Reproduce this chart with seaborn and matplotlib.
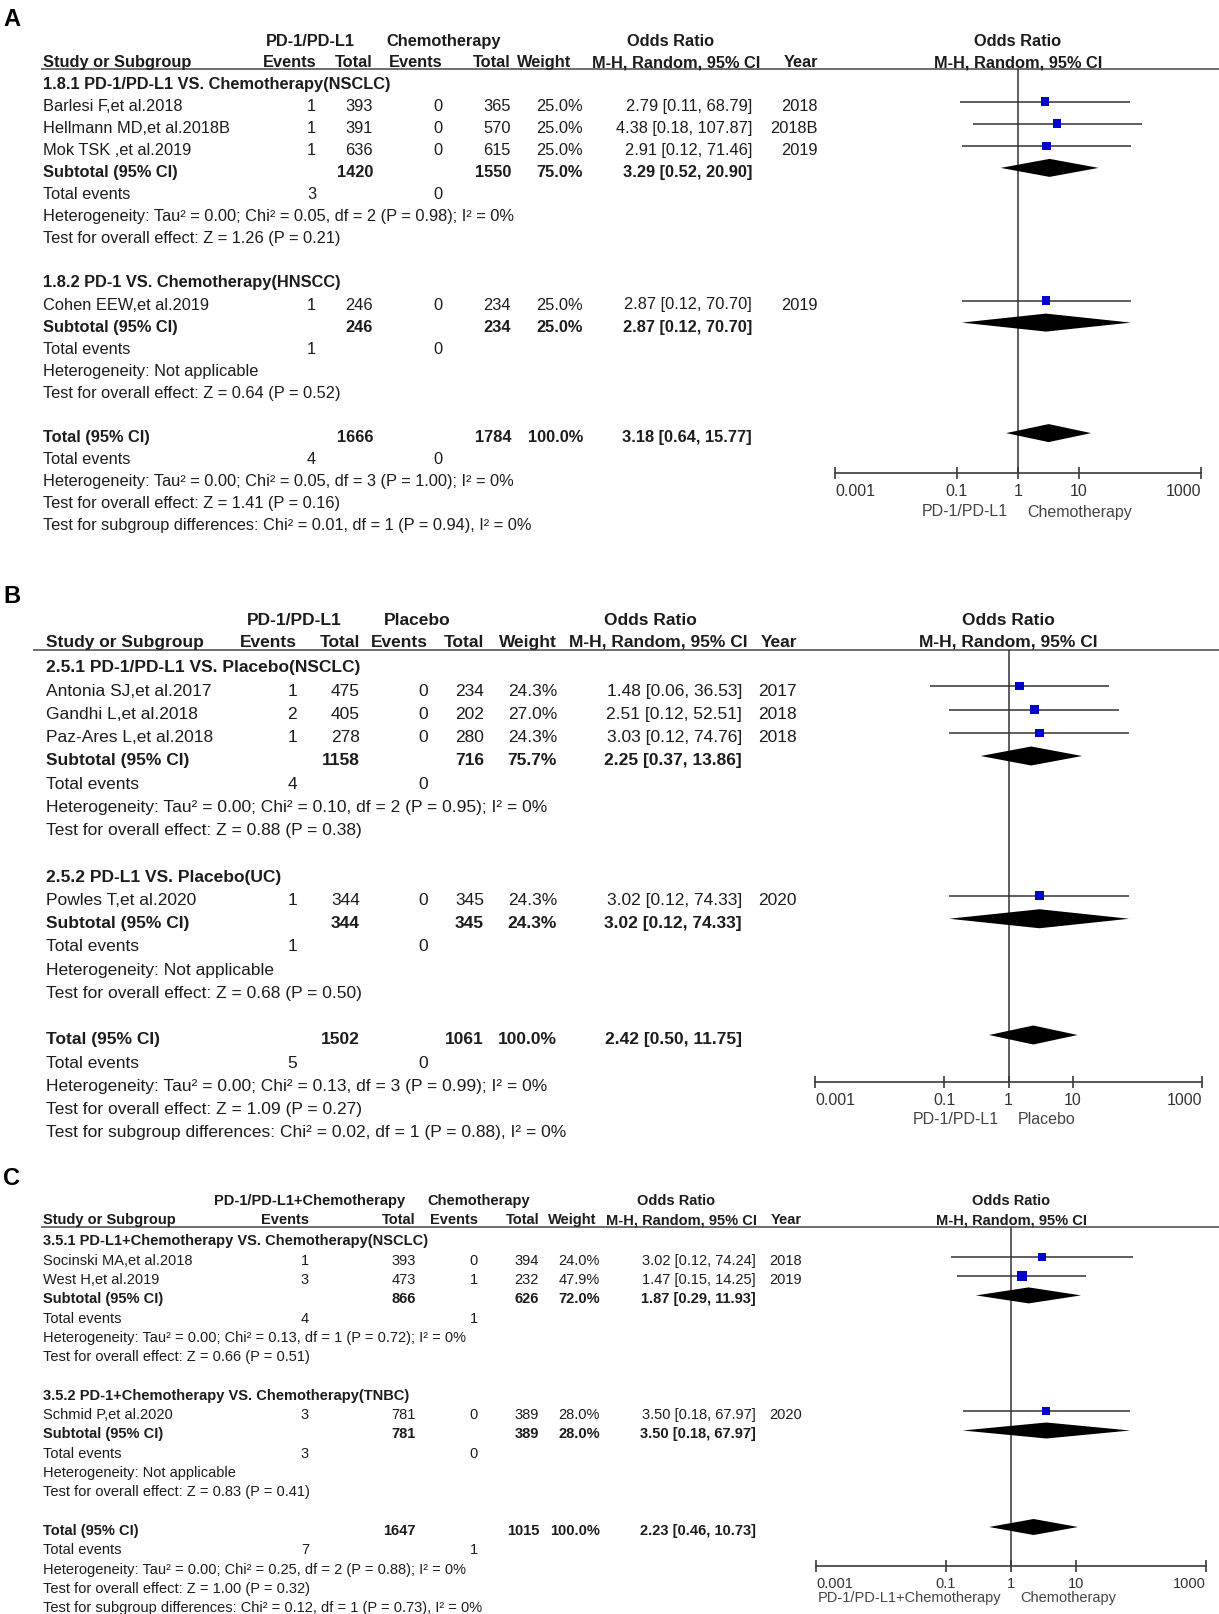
import numpy as np
import pandas as pd
import seaborn as sns
import matplotlib.pyplot as plt
from matplotlib.ticker import NullLocator

# ---------------- data ----------------
# panel A : PD-1/PD-L1 vs chemotherapy
a_groups = ["1.8.1 PD-1/PD-L1 VS. Chemotherapy(NSCLC)", "1.8.2 PD-1 VS. Chemotherapy(HNSCC)"]
a_study = ["Barlesi F,et al.2018", "Hellmann MD,et al.2018B", "Mok TSK ,et al.2019", "Cohen EEW,et al.2019"]
a_grp = [0, 0, 0, 1]
a_ev1 = [1, 1, 1, 1]
a_tot1 = [393, 391, 636, 246]
a_ev2 = [0, 0, 0, 0]
a_tot2 = [365, 570, 615, 234]
a_w = [25.0, 25.0, 25.0, 25.0]
a_or = [2.79, 4.38, 2.91, 2.87]
a_lo = [0.11, 0.18, 0.12, 0.12]
a_hi = [68.79, 107.87, 71.46, 70.70]
a_year = ["2018", "2018B", "2019", "2019"]
a_sub_ev1 = [3, 1]
a_sub_ev2 = [0, 0]
a_sub_tot1 = [1420, 246]
a_sub_tot2 = [1550, 234]
a_sub_w = [75.0, 25.0]
a_sub_or = [3.29, 2.87]
a_sub_lo = [0.52, 0.12]
a_sub_hi = [20.90, 70.70]
a_sub_het = ["Heterogeneity: Tau² = 0.00; Chi² = 0.05, df = 2 (P = 0.98); I² = 0%",
             "Heterogeneity: Not applicable"]
a_sub_z = ["Test for overall effect: Z = 1.26 (P = 0.21)", "Test for overall effect: Z = 0.64 (P = 0.52)"]
a_total = [1666, 1784, 100.0, 3.18, 0.64, 15.77]
a_total_ev = [4, 0]
a_total_txt = ["Heterogeneity: Tau² = 0.00; Chi² = 0.05, df = 3 (P = 1.00); I² = 0%",
               "Test for overall effect: Z = 1.41 (P = 0.16)",
               "Test for subgroup differences: Chi² = 0.01, df = 1 (P = 0.94), I² = 0%"]

# panel B : PD-1/PD-L1 vs placebo
b_groups = ["2.5.1 PD-1/PD-L1 VS. Placebo(NSCLC)", "2.5.2 PD-L1 VS. Placebo(UC)"]
b_study = ["Antonia SJ,et al.2017", "Gandhi L,et al.2018", "Paz-Ares L,et al.2018", "Powles T,et al.2020"]
b_grp = [0, 0, 0, 1]
b_ev1 = [1, 2, 1, 1]
b_tot1 = [475, 405, 278, 344]
b_ev2 = [0, 0, 0, 0]
b_tot2 = [234, 202, 280, 345]
b_w = [24.3, 27.0, 24.3, 24.3]
b_or = [1.48, 2.51, 3.03, 3.02]
b_lo = [0.06, 0.12, 0.12, 0.12]
b_hi = [36.53, 52.51, 74.76, 74.33]
b_year = ["2017", "2018", "2018", "2020"]
b_sub_ev1 = [4, 1]
b_sub_ev2 = [0, 0]
b_sub_tot1 = [1158, 344]
b_sub_tot2 = [716, 345]
b_sub_w = [75.7, 24.3]
b_sub_or = [2.25, 3.02]
b_sub_lo = [0.37, 0.12]
b_sub_hi = [13.86, 74.33]
b_sub_het = ["Heterogeneity: Tau² = 0.00; Chi² = 0.10, df = 2 (P = 0.95); I² = 0%",
             "Heterogeneity: Not applicable"]
b_sub_z = ["Test for overall effect: Z = 0.88 (P = 0.38)", "Test for overall effect: Z = 0.68 (P = 0.50)"]
b_total = [1502, 1061, 100.0, 2.42, 0.50, 11.75]
b_total_ev = [5, 0]
b_total_txt = ["Heterogeneity: Tau² = 0.00; Chi² = 0.13, df = 3 (P = 0.99); I² = 0%",
               "Test for overall effect: Z = 1.09 (P = 0.27)",
               "Test for subgroup differences: Chi² = 0.02, df = 1 (P = 0.88), I² = 0%"]

# panel C : PD-1/PD-L1+chemotherapy vs chemotherapy
c_groups = ["3.5.1 PD-L1+Chemotherapy VS. Chemotherapy(NSCLC)", "3.5.2 PD-1+Chemotherapy VS. Chemotherapy(TNBC)"]
c_study = ["Socinski MA,et al.2018", "West H,et al.2019", "Schmid P,et al.2020"]
c_grp = [0, 0, 1]
c_ev1 = [1, 3, 3]
c_tot1 = [393, 473, 781]
c_ev2 = [0, 1, 0]
c_tot2 = [394, 232, 389]
c_w = [24.0, 47.9, 28.0]
c_or = [3.02, 1.47, 3.50]
c_lo = [0.12, 0.15, 0.18]
c_hi = [74.24, 14.25, 67.97]
c_year = ["2018", "2019", "2020"]
c_sub_ev1 = [4, 3]
c_sub_ev2 = [1, 0]
c_sub_tot1 = [866, 781]
c_sub_tot2 = [626, 389]
c_sub_w = [72.0, 28.0]
c_sub_or = [1.87, 3.50]
c_sub_lo = [0.29, 0.18]
c_sub_hi = [11.93, 67.97]
c_sub_het = ["Heterogeneity: Tau² = 0.00; Chi² = 0.13, df = 1 (P = 0.72); I² = 0%",
             "Heterogeneity: Not applicable"]
c_sub_z = ["Test for overall effect: Z = 0.66 (P = 0.51)", "Test for overall effect: Z = 0.83 (P = 0.41)"]
c_total = [1647, 1015, 100.0, 2.23, 0.46, 10.73]
c_total_ev = [7, 1]
c_total_txt = ["Heterogeneity: Tau² = 0.00; Chi² = 0.25, df = 2 (P = 0.88); I² = 0%",
               "Test for overall effect: Z = 1.00 (P = 0.32)",
               "Test for subgroup differences: Chi² = 0.12, df = 1 (P = 0.73), I² = 0%"]

ticks = [0.001, 0.1, 1, 10, 1000]
tick_labels = ["0.001", "0.1", "1", "10", "1000"]

# ---------------- style ----------------
sns.set_theme(style="white")
NARROW = ['Liberation Sans Narrow', 'Liberation Sans', 'DejaVu Sans']
WIDE = ['Liberation Sans', 'DejaVu Sans']
plt.rcParams['font.family'] = NARROW
TXT = '#1c1c1c'
LINE = '#333333'
BLUE = '#0000cc'

W, H = 1219, 1615
fig = plt.figure(figsize=(W / 100, H / 100), dpi=100)
canvas = fig.add_axes([0, 0, 1, 1])
canvas.set_xlim(0, W)
canvas.set_ylim(H, 0)
canvas.axis('off')


def fmt_ci(o, l, h):
    return f"{o:.2f} [{l:.2f}, {h:.2f}]"


def draw_panel(letter, lay, d):
    fs = lay['fs']
    Y = lambda r: lay['row0'] + r * lay['dy']

    def put(x, y, s, ha='left', bold=False, off=lay['txt_off']):
        canvas.text(x, y + off, s, ha=ha, va='center', fontsize=fs, color=TXT,
                    fontweight='bold' if bold else 'normal')

    # panel letter
    canvas.text(3, lay['letter_y'], letter, ha='left', va='center', fontsize=17,
                fontweight='bold', family=WIDE, color='black')

    # header (two lines, the lower one sits on the rule)
    h1, h2 = lay['hdr1'] + 1.5, lay['hdr2']
    put(lay['h1_trt'], h1, d['trt'], ha='center', bold=True, off=0)
    put(lay['h1_ctl'], h1, d['ctl'], ha='center', bold=True, off=0)
    put(lay['h1_or'], h1, "Odds Ratio", ha='center', bold=True, off=0)
    put(lay['left'], h2, "Study or Subgroup", bold=True, off=0)
    put(lay['ev1'], h2, "Events", ha='right', bold=True, off=0)
    put(lay['tot1'], h2, "Total", ha='right', bold=True, off=0)
    put(lay['ev2'], h2, "Events", ha='right', bold=True, off=0)
    put(lay['tot2'], h2, "Total", ha='right', bold=True, off=0)
    put(lay['w_head'], h2, "Weight", ha='right', bold=True, off=0)
    put(lay['or_c'], h2, "M-H, Random, 95% CI", ha='center', bold=True, off=0)
    put(lay['year'], h2, "Year", ha='right', bold=True, off=0)
    canvas.hlines(lay['rule'], lay['rule_x0'], W, color='#555555', lw=1.2)

    pts = []      # individual studies
    dias = []     # pooled estimates
    r = 0
    for g in range(2):
        put(lay['left'], Y(r), d['groups'][g], bold=True)
        r += 1
        for i, gi in enumerate(d['grp']):
            if gi != g:
                continue
            y = Y(r)
            put(lay['left'], y, d['study'][i])
            put(lay['ev1'], y, str(d['ev1'][i]), ha='right')
            put(lay['tot1'], y, str(d['tot1'][i]), ha='right')
            put(lay['ev2'], y, str(d['ev2'][i]), ha='right')
            put(lay['tot2'], y, str(d['tot2'][i]), ha='right')
            put(lay['w'], y, f"{d['w'][i]:.1f}%", ha='right')
            put(lay['or_r'], y, fmt_ci(d['or'][i], d['lo'][i], d['hi'][i]), ha='right')
            put(lay['year'], y, d['year'][i], ha='right')
            pts.append(dict(y=y, orr=d['or'][i], lo=d['lo'][i], hi=d['hi'][i], w=d['w'][i]))
            r += 1
        y = Y(r)
        put(lay['left'], y, "Subtotal (95% CI)", bold=True)
        put(lay['tot1'], y, str(d['sub_tot1'][g]), ha='right', bold=True)
        put(lay['tot2'], y, str(d['sub_tot2'][g]), ha='right', bold=True)
        put(lay['w'], y, f"{d['sub_w'][g]:.1f}%", ha='right', bold=True)
        put(lay['or_r'], y, fmt_ci(d['sub_or'][g], d['sub_lo'][g], d['sub_hi'][g]), ha='right', bold=True)
        dias.append((y, d['sub_or'][g], d['sub_lo'][g], d['sub_hi'][g]))
        r += 1
        put(lay['left'], Y(r), "Total events")
        put(lay['ev1'], Y(r), str(d['sub_ev1'][g]), ha='right')
        put(lay['ev2'], Y(r), str(d['sub_ev2'][g]), ha='right')
        r += 1
        put(lay['left'], Y(r), d['sub_het'][g])
        r += 1
        put(lay['left'], Y(r), d['sub_z'][g])
        r += 2
    t1, t2, tw, tor, tlo, thi = d['total']
    y = Y(r)
    put(lay['left'], y, "Total (95% CI)", bold=True)
    put(lay['tot1'], y, str(t1), ha='right', bold=True)
    put(lay['tot2'], y, str(t2), ha='right', bold=True)
    put(lay['w'], y, f"{tw:.1f}%", ha='right', bold=True)
    put(lay['or_r'], y, fmt_ci(tor, tlo, thi), ha='right', bold=True)
    dias.append((y, tor, tlo, thi))
    r += 1
    put(lay['left'], Y(r), "Total events")
    put(lay['ev1'], Y(r), str(d['total_ev'][0]), ha='right')
    put(lay['ev2'], Y(r), str(d['total_ev'][1]), ha='right')
    for s in d['total_txt']:
        r += 1
        put(lay['left'], Y(r), s)

    # ---------- forest plot ----------
    x0, x1 = lay['x_lo'], lay['x_hi']
    top, bot = lay['rule'], lay['axis_y']
    ax = fig.add_axes([x0 / W, 1 - bot / H, (x1 - x0) / W, (bot - top) / H])
    ax.patch.set_visible(False)
    ax.set_xscale('log')

    df = pd.DataFrame(pts)
    ax.hlines(df['y'], df['lo'], df['hi'], color=LINE, lw=1.1, zorder=2)
    sns.scatterplot(data=df, x='orr', y='y', size='w', sizes=(0, lay['msize']), size_norm=(0, 100),
                    marker='s', color=BLUE, edgecolor='none', linewidth=0, legend=False,
                    ax=ax, zorder=3)
    hh = lay['dia_h']
    for (y, o, l, h) in dias:
        ax.fill([l, o, h, o], [y, y - hh, y, y + hh], color='black', lw=0, zorder=4)
    ax.axvline(1, color=LINE, lw=1.1, zorder=1)

    ax.set_xlim(0.001, 1000)
    ax.set_ylim(bot, top)
    ax.set_xlabel('')
    ax.set_ylabel('')
    ax.set_yticks([])
    for sp in ['top', 'left', 'right']:
        ax.spines[sp].set_visible(False)
    ax.spines['bottom'].set_color('#3a3a3a')
    ax.spines['bottom'].set_linewidth(1.2)
    ax.set_xticks(ticks)
    ax.xaxis.set_minor_locator(NullLocator())
    ax.set_xticklabels(tick_labels, family=WIDE, fontsize=lay['tick_fs'], color='#333333')
    ax.tick_params(axis='x', bottom=True, direction='inout', length=8, width=1.2,
                   color='#3a3a3a', pad=3)
    labs = ax.get_xticklabels()
    labs[0].set_ha('left')
    labs[-1].set_ha('right')

    # forest header + direction labels
    xc = (x0 + x1) / 2
    put(xc, h1, "Odds Ratio", ha='center', bold=True, off=0)
    put(xc, h2, "M-H, Random, 95% CI", ha='center', bold=True, off=0)
    canvas.text(xc - 10, lay['lbl_y'], d['trt'], ha='right', va='center', family=WIDE,
                fontsize=lay['tick_fs'], color='#444444')
    canvas.text(xc + 9, lay['lbl_y'], d['ctl'], ha='left', va='center', family=WIDE,
                fontsize=lay['tick_fs'], color='#444444')


panel_a = dict(trt="PD-1/PD-L1", ctl="Chemotherapy", groups=a_groups, study=a_study, grp=a_grp,
               ev1=a_ev1, tot1=a_tot1, ev2=a_ev2, tot2=a_tot2, w=a_w, lo=a_lo, hi=a_hi, year=a_year,
               sub_ev1=a_sub_ev1, sub_ev2=a_sub_ev2, sub_tot1=a_sub_tot1, sub_tot2=a_sub_tot2,
               sub_w=a_sub_w, sub_or=a_sub_or, sub_lo=a_sub_lo, sub_hi=a_sub_hi,
               sub_het=a_sub_het, sub_z=a_sub_z, total=a_total, total_ev=a_total_ev,
               total_txt=a_total_txt)
panel_a['or'] = a_or
panel_b = dict(trt="PD-1/PD-L1", ctl="Placebo", groups=b_groups, study=b_study, grp=b_grp,
               ev1=b_ev1, tot1=b_tot1, ev2=b_ev2, tot2=b_tot2, w=b_w, lo=b_lo, hi=b_hi, year=b_year,
               sub_ev1=b_sub_ev1, sub_ev2=b_sub_ev2, sub_tot1=b_sub_tot1, sub_tot2=b_sub_tot2,
               sub_w=b_sub_w, sub_or=b_sub_or, sub_lo=b_sub_lo, sub_hi=b_sub_hi,
               sub_het=b_sub_het, sub_z=b_sub_z, total=b_total, total_ev=b_total_ev,
               total_txt=b_total_txt)
panel_b['or'] = b_or
panel_c = dict(trt="PD-1/PD-L1+Chemotherapy", ctl="Chemotherapy", groups=c_groups, study=c_study,
               grp=c_grp, ev1=c_ev1, tot1=c_tot1, ev2=c_ev2, tot2=c_tot2, w=c_w, lo=c_lo, hi=c_hi,
               year=c_year, sub_ev1=c_sub_ev1, sub_ev2=c_sub_ev2, sub_tot1=c_sub_tot1,
               sub_tot2=c_sub_tot2, sub_w=c_sub_w, sub_or=c_sub_or, sub_lo=c_sub_lo, sub_hi=c_sub_hi,
               sub_het=c_sub_het, sub_z=c_sub_z, total=c_total, total_ev=c_total_ev,
               total_txt=c_total_txt)
panel_c['or'] = c_or

lay_a = dict(fs=11.8, tick_fs=11.5, txt_off=3.5, letter_y=19, hdr1=40, hdr2=62.5, rule=70, rule_x0=41,
             row0=80.5, dy=22.1, left=43, ev1=316, tot1=373, ev2=442, tot2=511, w=583, w_head=571,
             or_r=752, or_c=676, h1_or=671, year=818, h1_trt=310, h1_ctl=444,
             x_lo=835, x_hi=1201, axis_y=474, lbl_y=512, msize=150, dia_h=9)
lay_b = dict(fs=12.5, tick_fs=11.5, txt_off=4.0, letter_y=597, hdr1=619, hdr2=642.5, rule=651, rule_x0=33,
             row0=664, dy=23.25, left=46, ev1=297, tot1=360, ev2=428, tot2=484, w=557, w_head=557,
             or_r=742, or_c=658, h1_or=650, year=797, h1_trt=294, h1_ctl=417,
             x_lo=815, x_hi=1202, axis_y=1083, lbl_y=1120, msize=150, dia_h=9.5)
lay_c = dict(fs=10.55, tick_fs=10.5, txt_off=3.0, letter_y=1179, hdr1=1200, hdr2=1220.5, rule=1228, rule_x0=41,
             row0=1238.5, dy=19.3, left=43, ev1=309, tot1=416, ev2=478, tot2=539, w=600, w_head=596,
             or_r=756, or_c=682, h1_or=676, year=802, h1_trt=310, h1_ctl=479,
             x_lo=816, x_hi=1206, axis_y=1567, lbl_y=1598, msize=125, dia_h=8)

draw_panel("A", lay_a, panel_a)
draw_panel("B", lay_b, panel_b)
draw_panel("C", lay_c, panel_c)

fig.savefig("out.png", dpi=100, facecolor='white')
